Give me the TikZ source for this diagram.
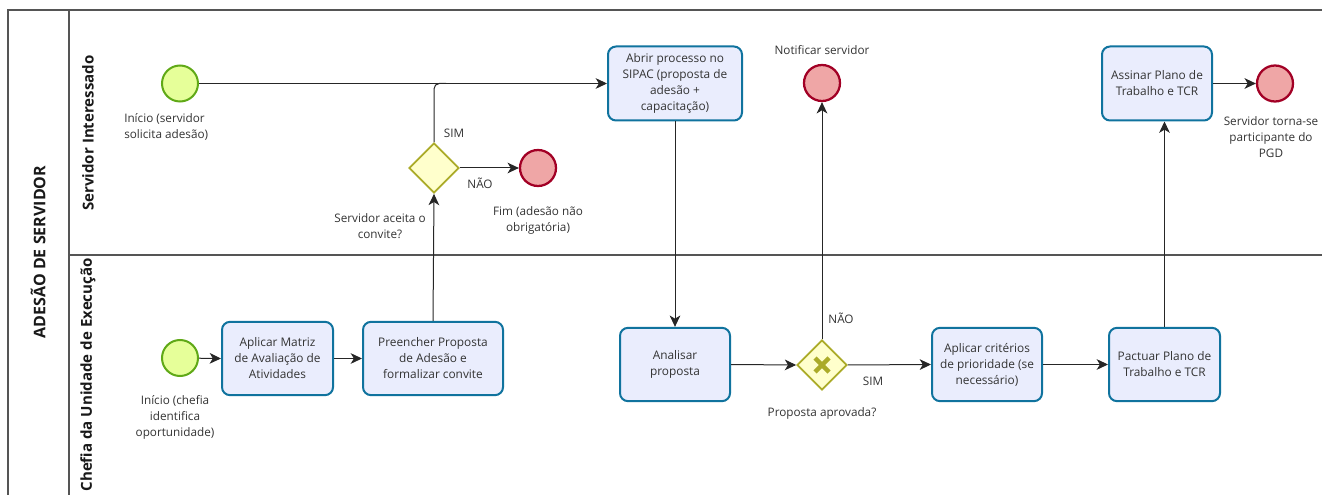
\documentclass[tikz,border=0pt]{standalone}
\usepackage{fontspec}
\setmainfont{Open Sans}
\usetikzlibrary{arrows.meta,shapes.geometric,calc}
\definecolor{startfill}{HTML}{E6FF99}
\definecolor{startdraw}{HTML}{60A917}
\definecolor{endfill}{HTML}{EFA6A6}
\definecolor{enddraw}{HTML}{A20025}
\definecolor{taskfill}{HTML}{EAEDFD}
\definecolor{taskdraw}{HTML}{10739E}
\definecolor{gwfill}{HTML}{FFFFCC}
\definecolor{gwdraw}{HTML}{ABAB28}
\definecolor{txt}{HTML}{333333}
\definecolor{poolline}{HTML}{555555}
\tikzset{
  startev/.style={circle,draw=startdraw,fill=startfill,line width=1.5pt,minimum size=27pt,inner sep=0pt},
  endev/.style={circle,draw=enddraw,fill=endfill,line width=1.7pt,minimum size=27pt,inner sep=0pt},
  task/.style={rectangle,rounded corners=6pt,draw=taskdraw,fill=taskfill,line width=1.5pt,
    minimum width=82.5pt,minimum height=55pt,align=center,text=txt,font=\fontsize{8.9}{12}\selectfont,inner sep=1pt},
  gw/.style={diamond,draw=gwdraw,fill=gwfill,line width=1.3pt,minimum size=37.5pt,inner sep=0pt,aspect=1},
  conn/.style={draw=black!85,line width=0.75pt},
  flow/.style={conn,-{Stealth[length=8.5pt,width=8pt,inset=2.4pt]}},
  lbl/.style={text=txt,align=center,font=\fontsize{8.8}{12}\selectfont,inner sep=0pt},
  lanelbl/.style={rotate=90,font=\fontsize{11.3}{13}\selectfont\bfseries,text=black!90,inner sep=0pt},
}
\begin{document}
\begin{tikzpicture}[x=0.75pt,y=-0.75pt]
\useasboundingbox (0,0) rectangle (1322,495);
% pool frame
\draw[poolline,line width=1.2pt] (1330,10) -- (8,10) -- (8,500);
\draw[poolline,line width=0.9pt] (69,10) -- (69,500);
\draw[poolline,line width=0.9pt] (69,255) -- (1330,255);
\node[lanelbl,font=\fontsize{12}{14}\selectfont\bfseries] (pool) at (38,252) {ADESÃO DE SERVIDOR};
\node[lanelbl] (lane1) at (88,133) {Servidor Interessado};
\node[lanelbl,anchor=east] (lane2) at (88,258) {Chefia da Unidade de Execução};

% lane 1
\node[startev] (s1) at (180,83.5) {};
\node[lbl,align=left,anchor=north west] (s1l) at (124,113) {Início (servidor\\solicita adesão)};
\node[gw] (g1) at (434,168) {};
\node[endev] (e1) at (538,168) {};
\node[lbl] (e1l) at (538,220) {Fim (adesão não\\obrigatória)};
\node[lbl] (g1l) at (380,226) {Servidor aceita o\\convite?};
\node[task,minimum width=100.5pt,minimum height=55.5pt] (abrir) at (675,83.5) {Abrir processo no\\SIPAC (proposta de\\adesão +\\capacitação)};
\node[endev] (notif) at (822,83) {};
\node[lbl] (notifl) at (822,50) {Notificar servidor};
\node[task,minimum height=55.5pt] (assinar) at (1157,83.5) {Assinar Plano de\\Trabalho e TCR};
\node[endev] (e2) at (1275,83.5) {};
\node[lbl] (e2l) at (1271,137) {Servidor torna-se\\participante do\\PGD};

% lane 2
\node[startev] (s2) at (180,358) {};
\node[lbl] (s2l) at (175,417) {Início (chefia\\identifica\\oportunidade)};
\node[task,minimum width=83.25pt] (matriz) at (277.5,358.5) {Aplicar Matriz\\de Avaliação de\\Atividades};
\node[task,minimum width=105pt] (preencher) at (433,358.5) {Preencher Proposta\\de Adesão e\\formalizar convite};
\node[task] (analisar) at (675,364.5) {Analisar\\proposta};
\node[gw] (g2) at (822,365) {};
\draw[gwdraw,line width=3.2pt] ($(g2)+(-7,-7)$) -- ($(g2)+(7,7)$);
\draw[gwdraw,line width=3.2pt] ($(g2)+(-7,7)$) -- ($(g2)+(7,-7)$);
\node[lbl] (g2l) at (822,413) {Proposta aprovada?};
\node[task] (criterios) at (987,364.5) {Aplicar critérios\\de prioridade (se\\necessário)};
\node[task,minimum width=83.25pt] (pactuar) at (1164.5,364.5) {Pactuar Plano de\\Trabalho e TCR};

% flows
\draw[flow] (s1) -- (abrir.west);
\coordinate (join) at ($(g1.north |- abrir.west)+(12,0)$);
\draw[conn,rounded corners=4pt] (g1.north) |- (join);
\node[lbl] (sim1) at (454,133) {SIM};
\draw[flow] (g1.east) -- (e1);
\node[lbl] (nao1) at (480,183) {NÃO};
\draw[flow] (preencher.north) -- (g1.south);
\draw[flow] (s2) -- (matriz.west);
\draw[flow] (matriz.east) -- (preencher.west);
\draw[flow] (abrir.south) -- (analisar.north);
\draw[flow] (analisar.east) -- (g2.west);
\draw[flow] (g2.north) -- (notif.south);
\node[lbl] (nao2) at (841,318) {NÃO};
\draw[flow] (g2.east) -- (criterios.west);
\node[lbl] (sim2) at (873,381) {SIM};
\draw[flow] (criterios.east) -- (pactuar.west);
\draw[flow] (pactuar.north) -- (pactuar.north |- assinar.south);
\draw[flow] (assinar.east) -- (e2);
\end{tikzpicture}
\end{document}
